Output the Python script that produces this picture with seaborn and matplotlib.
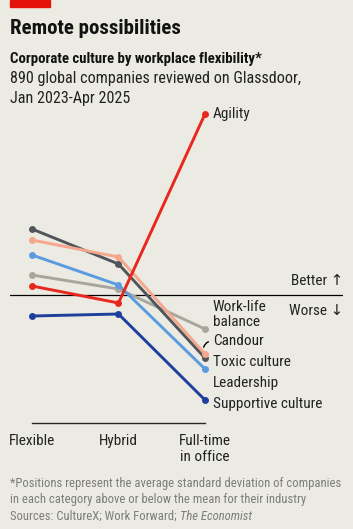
import matplotlib
matplotlib.use("Agg")
import matplotlib.pyplot as plt
import seaborn as sns
import pandas as pd

# Podaci (prosjecna standardna devijacija u odnosu na prosjek industrije)
kategorije = ["Flexible", "Hybrid", "Full-time\nin office"]
agility = [0.045, -0.04, 0.905]
work_life = [0.10, 0.03, -0.17]
candour = [0.275, 0.19, -0.295]
toxic = [0.33, 0.155, -0.315]
leadership = [0.20, 0.05, -0.37]
supportive = [-0.105, -0.095, -0.525]

serije = ["Supportive culture", "Work-life\nbalance", "Leadership",
          "Toxic culture", "Candour", "Agility"]
vrijednosti = [supportive, work_life, leadership, toxic, candour, agility]
boje = ["#1f3f9f", "#a7a69d", "#5b9be0", "#505559", "#f5a78e", "#e8271e"]

rows = []
for s, v in zip(serije, vrijednosti):
    for i, val in enumerate(v):
        rows.append({"serija": s, "x": i, "vrijednost": val})
df = pd.DataFrame(rows)

BG = "#ecebe3"
FONT = ["Roboto Condensed", "DejaVu Sans"]
sns.set_style("white")
plt.rcParams["font.family"] = FONT

W, H = 353, 529
fig = plt.figure(figsize=(W / 100, H / 100), dpi=100, facecolor=BG)
ax = fig.add_axes([10 / W, 1 - 423 / H, 333 / W, 323 / H], facecolor=BG)

sns.lineplot(data=df, x="x", y="vrijednost", hue="serija",
             hue_order=serije, palette=boje, linewidth=2.1,
             marker="o", markersize=5, markeredgewidth=0,
             legend=False, ax=ax)

ax.axhline(0, color="black", linewidth=0.9, zorder=1)
ax.set_xlim(-0.254, 3.595)
ax.set_ylim(-0.64, 0.975)

for sp in ["top", "right", "left"]:
    ax.spines[sp].set_visible(False)
ax.spines["bottom"].set_bounds(0, 2)
ax.spines["bottom"].set_linewidth(1)
ax.set_xticks(range(len(kategorije)))
ax.set_xticklabels(kategorije, fontsize=11, linespacing=1.15)
ax.tick_params(axis="x", direction="out", length=6, width=1, pad=2,
               colors="black", labelcolor="#222222")
ax.set_yticks([])
ax.set_xlabel("")
ax.set_ylabel("")

# Oznake serija desno od krajnjih tacaka
lx = 2.09
fs = 11
tc = "#222222"
ax.text(lx, agility[2], "Agility", fontsize=fs, va="center", color=tc)
ax.text(lx, -0.0975, "Work-life\nbalance", fontsize=fs,
        va="center", color=tc, linespacing=1.15)
ax.text(lx, -0.232, "Candour", fontsize=fs, va="center", color=tc)
ax.annotate("", xy=(1.98, -0.275), xytext=(2.07, -0.23),
            arrowprops=dict(arrowstyle="-", color="black", lw=1,
                            connectionstyle="arc3,rad=0.4"))
ax.text(lx, -0.337, "Toxic culture", fontsize=fs, va="center", color=tc)
ax.text(lx, -0.44, "Leadership", fontsize=fs, va="center", color=tc)
ax.text(lx, -0.543, "Supportive culture", fontsize=fs, va="center", color=tc)
ax.text(3.595, 0.068, "Better \u2191", fontsize=fs, va="center", ha="right",
        color=tc)
ax.text(3.595, -0.082, "Worse \u2193", fontsize=fs, va="center", ha="right",
        color=tc)

# Naslovi
fig.patches.append(plt.Rectangle((10 / W, 1 - 7 / H), 40 / W, 7 / H,
                                 transform=fig.transFigure, color="#e3120b"))
fig.text(10 / W, 1 - 29 / H, "Remote possibilities", fontsize=15,
         fontweight="bold", va="center", color="#121212")
fig.text(10 / W, 1 - 59 / H, "Corporate culture by workplace flexibility*",
         fontsize=10.7, fontweight="bold", va="center", color="#121212")
fig.text(10 / W, 1 - 78 / H, "890 global companies reviewed on Glassdoor,",
         fontsize=11.6, va="center", color=tc)
fig.text(10 / W, 1 - 98 / H, "Jan 2023-Apr 2025", fontsize=11.6,
         va="center", color=tc)

# Fusnote
sivo = "#7d7d79"
fs2 = 9.1
fig.text(10 / W, 1 - 483 / H,
         "*Positions represent the average standard deviation of companies",
         fontsize=fs2, va="center", color=sivo)
fig.text(10 / W, 1 - 500 / H,
         "in each category above or below the mean for their industry",
         fontsize=fs2, va="center", color=sivo)
t = fig.text(10 / W, 1 - 516 / H, "Sources: CultureX; Work Forward; ",
             fontsize=fs2, va="center", color=sivo)
fig.canvas.draw()
bb = t.get_window_extent()
fig.text(bb.x1 / W, 1 - 516 / H, "The Economist", fontsize=fs2,
         va="center", color=sivo, style="italic")

fig.savefig("out.png", dpi=100, facecolor=BG)
